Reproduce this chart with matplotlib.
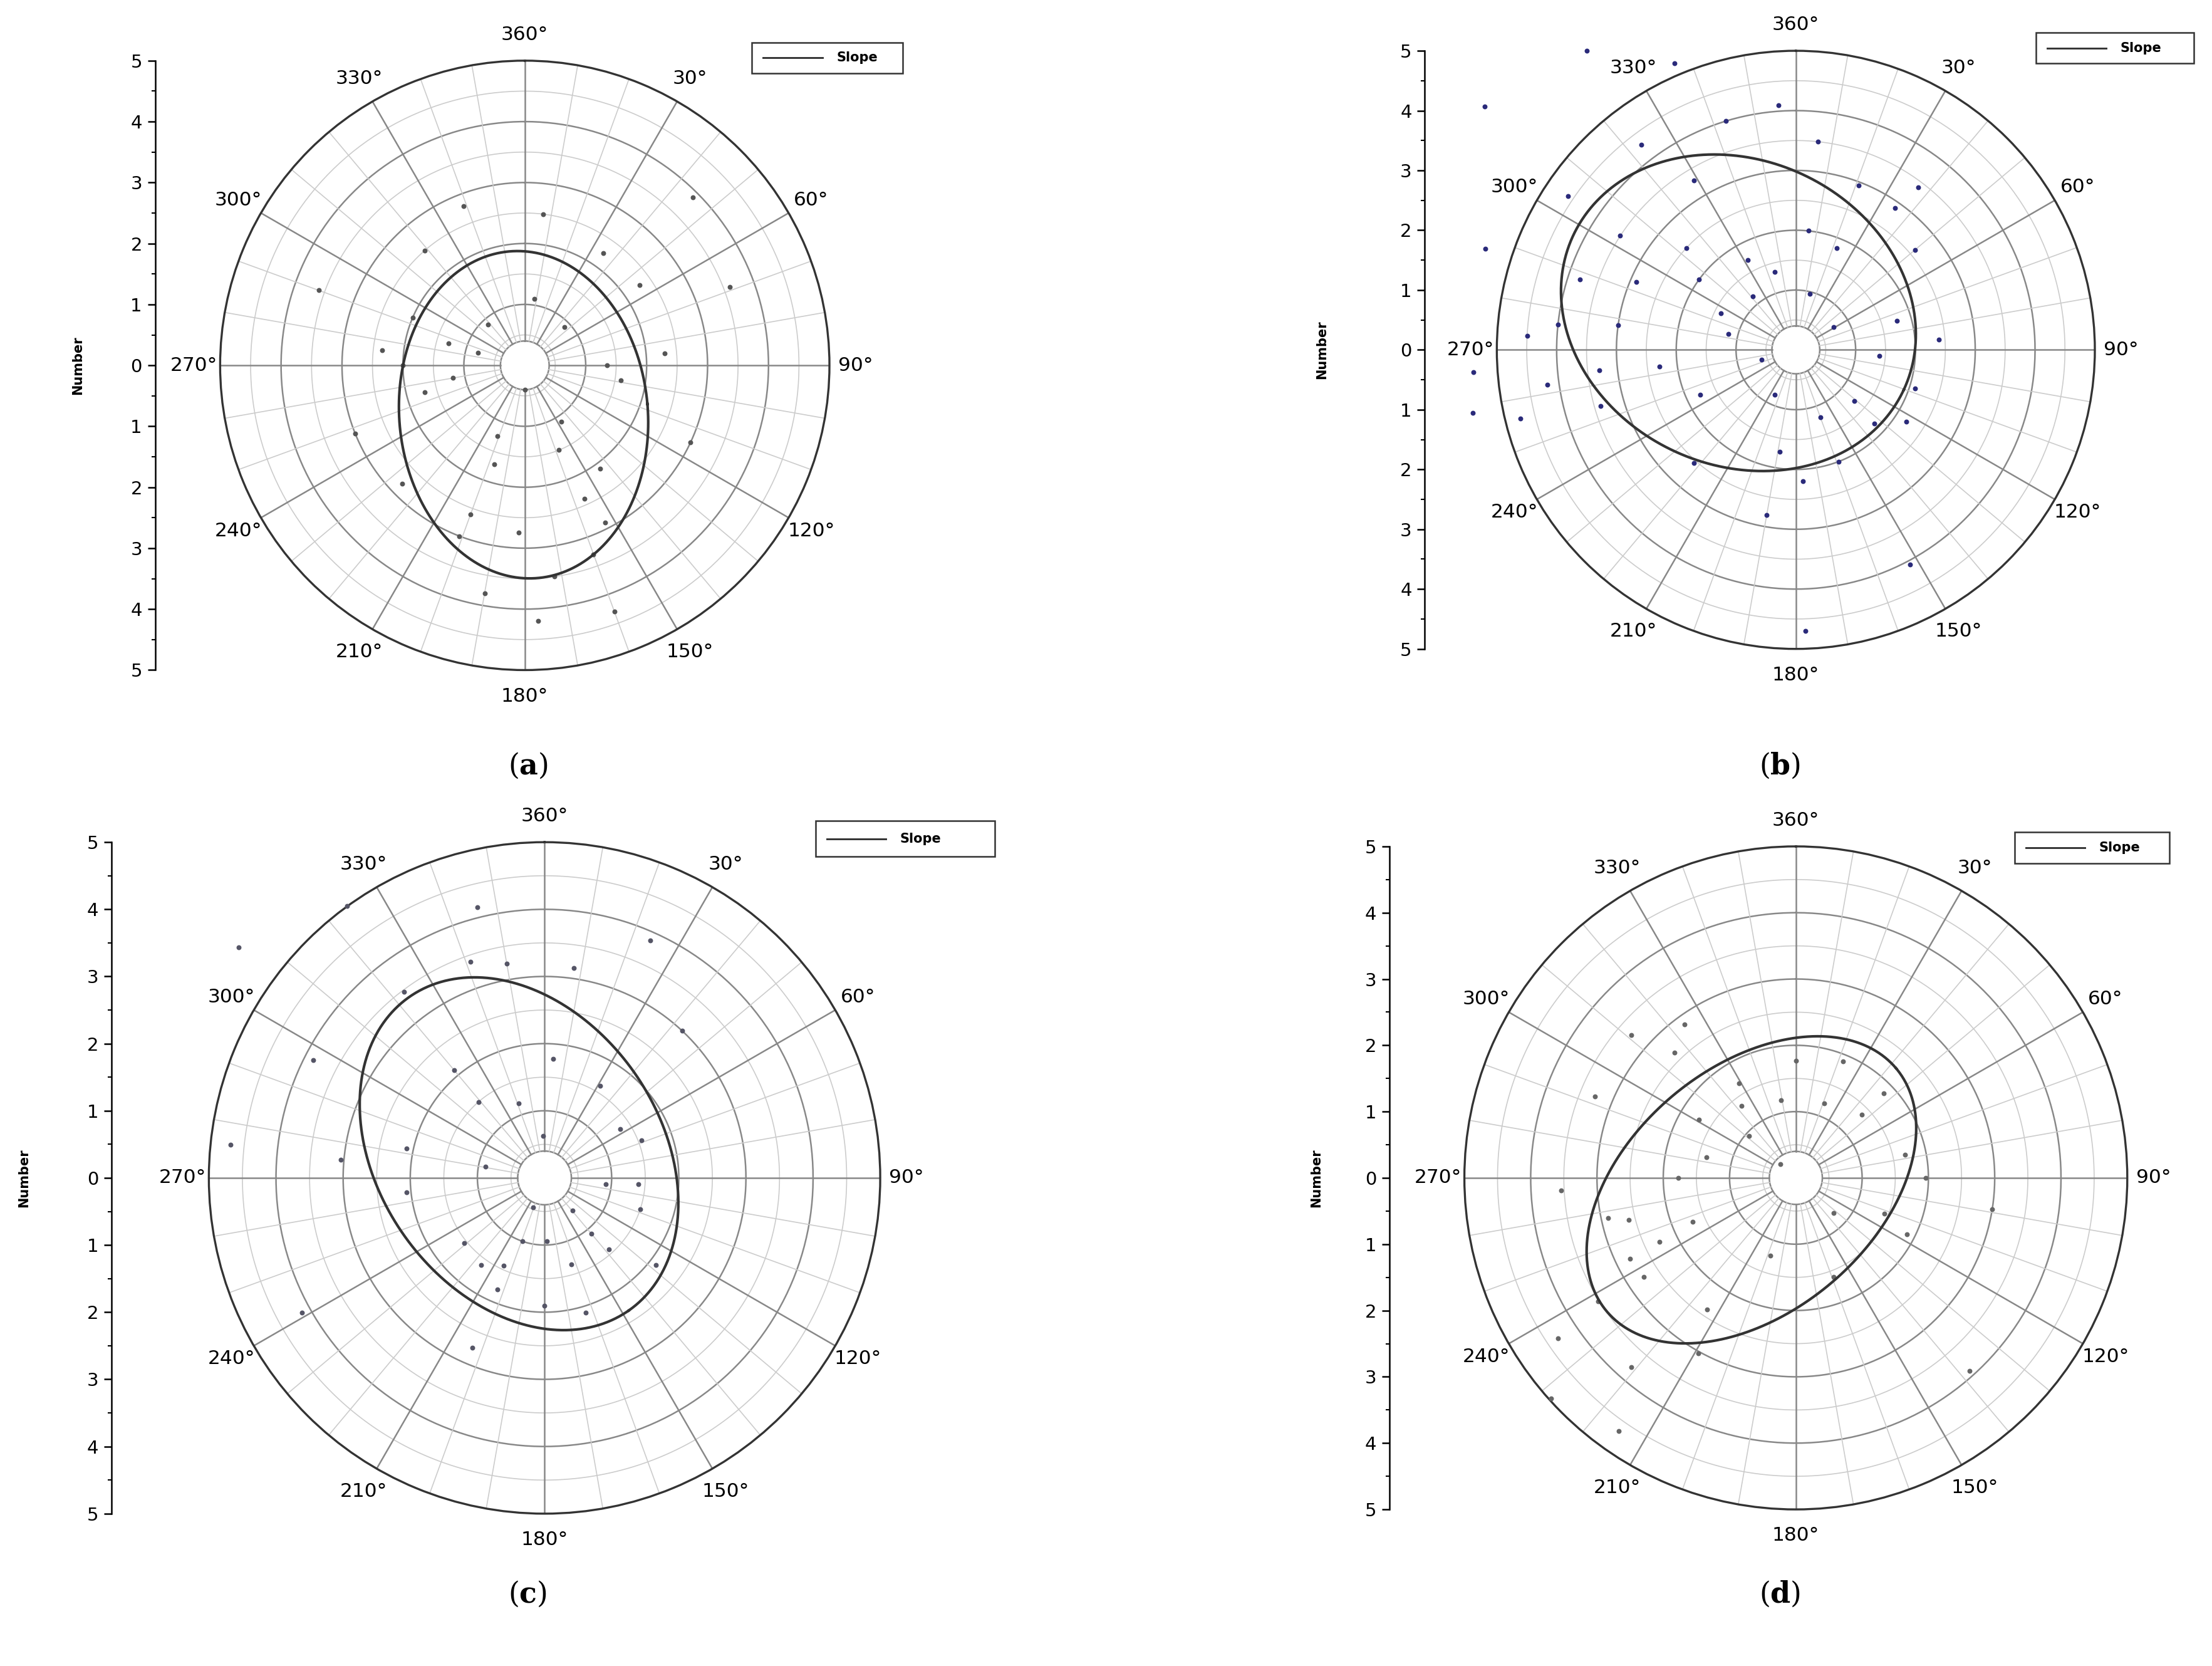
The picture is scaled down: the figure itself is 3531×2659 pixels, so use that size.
import numpy as np
import matplotlib
matplotlib.use("Agg")
import matplotlib.pyplot as plt
from matplotlib.lines import Line2D

plt.rcParams['font.family'] = ['DejaVu Sans']
plt.rcParams['mathtext.fontset'] = 'dejavuserif'

# ---- data (theta deg, r) ----
a_theta = [7,45,35,55,69,8,46,85,90,99,115,158,144,156,153,160,160,172,177,182,201,197,200,201,190,226,248,255,260,276,270,286,293,290,319,339,318,180,147,285]
a_r     = [2.5,3.9,2.25,2.3,3.6,1.1,0.9,2.3,1.35,1.6,3.0,1.5,2.1,2.4,2.9,3.3,4.3,3.5,4.2,2.75,1.24,1.7,2.6,3.0,3.8,2.8,3.0,1.7,1.2,2.35,2.0,1.3,2.0,3.6,2.5,2.8,0.9,0.4,1.1,0.8]
b_theta = [308,325,337,343,356,6,323,304,288,273,266,259,256,262,276,288,303,293,278,264,254,263,329,313,306,332,321,296,283,345,6,22,21,35,37,50,74,86,94,108,131,133,123,160,159,177,189,190,178,152,205,254,245,222,59,14]
b_r     = [6.6,6.1,5.2,4.0,4.1,3.5,4.3,4.6,5.46,4.5,5.4,5.5,4.75,4.2,4.0,3.8,3.5,2.9,3.0,3.3,3.4,2.3,3.3,2.5,2.0,1.7,1.15,1.4,1.16,1.35,2.0,1.83,2.94,2.9,3.4,2.6,1.76,2.4,1.4,2.1,1.3,1.8,2.2,1.2,2.0,2.2,1.72,2.8,4.7,4.07,0.83,0.6,1.77,2.55,0.74,0.97]
c_theta = [307,324,346,341,350,8,24,43,323,297,276,275,282,264,320,319,341,4,31,57,69,358,281,96,94,108,139,140,138,128,163,178,201,199,205,231,216,203,203,241,180,163]
c_r     = [5.7,5.0,4.15,3.4,3.24,3.16,3.87,3.0,3.47,3.87,4.7,3.05,2.1,2.07,2.1,1.5,1.17,1.78,1.6,1.34,1.55,0.63,0.9,0.92,1.4,1.5,0.64,1.08,1.43,2.1,1.35,0.94,0.47,1.0,1.44,1.54,1.6,1.8,2.75,4.13,1.9,2.1]
d_theta = [324,316,311,292,267,258,256,244,238,236,228,215,221,209,237,245,247,270,283,301,329,323,312,349,0,21,22,46,46,78,90,112,117,99,138,133,198,214,312,159]
d_r     = [2.86,2.63,3.29,3.27,3.55,2.9,2.6,2.78,3.52,4.33,4.97,4.66,3.78,3.03,2.74,2.27,1.69,1.77,1.38,1.7,1.67,1.36,0.95,1.19,1.77,1.2,1.9,1.38,1.84,1.68,1.96,1.44,1.88,3.0,3.92,0.78,1.23,2.39,0.31,1.6]

# ellipse fits: centre x, centre y, semi-axis 1, semi-axis 2, rotation deg
a_ell = [-0.02, -0.81, 2.04, 2.69, 5]
b_ell = [-0.96, 0.62, 3.05, 2.55, -25]
c_ell = [-0.38, 0.36, 2.85, 2.1, -55]
d_ell = [-0.67, -0.18, 2.85, 1.85, 40]

panels = [
    dict(lab='a', th=a_theta, r=a_r, ell=a_ell, pc='#555555',
         box=[372, 259, 216], axx=110, numx=55, leg=[533, 30, 640, 52], labpos=(360, 543)),
    dict(lab='b', th=b_theta, r=b_r, ell=b_ell, pc='#2a2a7a',
         box=[1273, 248, 212], axx=1010, numx=937, leg=[1443, 23, 1555, 45], labpos=(1247, 543)),
    dict(lab='c', th=c_theta, r=c_r, ell=c_ell, pc='#555566',
         box=[386, 835, 238], axx=79, numx=17, leg=[578, 582, 705, 607], labpos=(360, 1130)),
    dict(lab='d', th=d_theta, r=d_r, ell=d_ell, pc='#666666',
         box=[1273, 835, 235], axx=985, numx=933, leg=[1428, 590, 1538, 612], labpos=(1247, 1130)),
]

W, H = 1568.0, 1181.0
fig = plt.figure(figsize=(3531/300, 2659/300), dpi=300)

def fx(x): return x / W
def fy(y): return 1 - y / H

for p in panels:
    cx, cy, R = p['box']
    ax = fig.add_axes([fx(cx - R), fy(cy + R), 2 * R / W, 2 * R / H], projection='polar')
    ax.set_theta_zero_location('N')
    ax.set_theta_direction(-1)
    ax.set_ylim(0, 5)
    ax.grid(False)
    ax.set_yticks([])
    ax.set_xticks(np.deg2rad(np.arange(0, 360, 30)))
    ax.set_xticklabels(['360°'] + [f'{d}°' for d in range(30, 360, 30)], fontsize=7.5)
    ax.tick_params(axis='x', pad=3, length=0)
    ax.spines['polar'].set_linewidth(0.8)
    ax.spines['polar'].set_color('#333333')
    tt = np.linspace(0, 2 * np.pi, 400)
    for rr in np.arange(0.5, 5.0, 0.5):
        dark = abs(rr - round(rr)) < 1e-6
        ax.plot(tt, np.full_like(tt, rr), color='#888888' if dark else '#cccccc',
                lw=0.6 if dark else 0.4, zorder=1)
    ax.plot(tt, np.full_like(tt, 0.4), color='#888888', lw=0.6, zorder=1)
    for d in range(0, 360, 10):
        big = d % 30 == 0
        ax.plot([np.deg2rad(d)] * 2, [0.4, 5], color='#888888' if big else '#cccccc',
                lw=0.6 if big else 0.4, zorder=1)
    ax.scatter(np.deg2rad(p['th']), p['r'], s=0.8, color=p['pc'], zorder=3, clip_on=False)
    ex, ey, s1, s2, rot = p['ell']
    t = np.linspace(0, 2 * np.pi, 400)
    ph = np.deg2rad(rot)
    xs = ex + s1 * np.cos(t) * np.cos(ph) - s2 * np.sin(t) * np.sin(ph)
    ys = ey + s1 * np.cos(t) * np.sin(ph) + s2 * np.sin(t) * np.cos(ph)
    ax.plot(np.arctan2(xs, ys), np.hypot(xs, ys), color='#333333', lw=1.0, zorder=4)

    # left linear axis
    la = fig.add_axes([fx(p['axx']), fy(cy + R), 0.001, 2 * R / H])
    la.set_xlim(0, 1)
    la.set_ylim(-5, 5)
    for s in ['top', 'right', 'bottom']:
        la.spines[s].set_visible(False)
    la.spines['left'].set_linewidth(0.6)
    la.set_xticks([])
    la.set_yticks(np.arange(-5, 6, 1))
    la.set_yticklabels([str(abs(v)) for v in range(-5, 6)], fontsize=7)
    la.set_yticks(np.arange(-4.5, 5, 1), minor=True)
    la.tick_params(axis='y', which='major', length=3, width=0.6, pad=2)
    la.tick_params(axis='y', which='minor', length=1.5, width=0.5)
    fig.text(fx(p['numx']), fy(cy), 'Number', rotation=90, fontsize=5,
             fontweight='bold', ha='center', va='center')

    # legend box
    x0, y0, x1, y1 = p['leg']
    fig.patches.append(plt.Rectangle((fx(x0), fy(y1)), fx(x1 - x0), (y1 - y0) / H,
                                     transform=fig.transFigure, fill=False, lw=0.6,
                                     ec='#333333'))
    fig.lines.append(Line2D([fx(x0 + 8), fx(x0 + 50)], [fy((y0 + y1) / 2)] * 2,
                            transform=fig.transFigure, color='#333333', lw=0.7))
    fig.text(fx(x0 + 60), fy((y0 + y1) / 2), 'Slope', fontsize=5, fontweight='bold',
             va='center', ha='left')

    fig.text(fx(p['labpos'][0]), fy(p['labpos'][1]),
             r'($\mathbf{' + p['lab'] + r'}$)', fontsize=11, family='DejaVu Serif',
             va='center', ha='left')

fig.savefig('out.png', dpi=300)
